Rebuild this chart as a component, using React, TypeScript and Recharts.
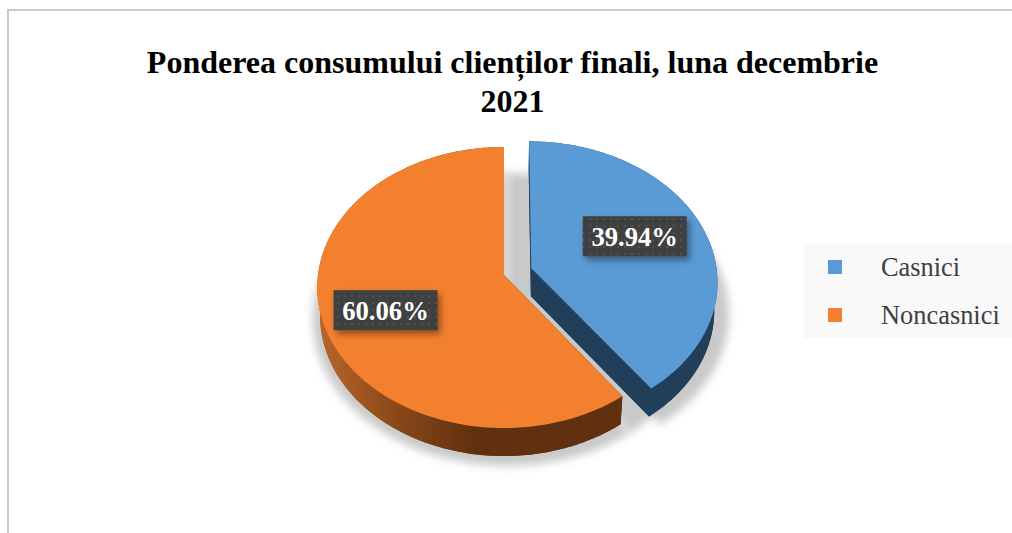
import { PieChart, Pie, Legend } from "recharts";

const categories = ["Casnici", "Noncasnici"];
const shares = [39.94, 60.06];
const topColors = ["#5b9bd5", "#f2802f"];
const sideColors = ["#223f59", "url(#orangeSide)"];
const titleLines = ["Ponderea consumului clienților finali, luna decembrie", "2021"];

const data = categories.map((name, i) => ({ name, value: shares[i], fill: topColors[i] }));

const EXPLODED = "Casnici";
const EXPLODE = 0.155; // share of the radius
const SQUASH = 0.7495; // tilt of the disc
const PERSPECTIVE = 0.089;
const DEPTH = 28;
const DEPTH_SCALE = 0.985;
const LABEL_RADIUS = 0.67;
const LABEL_EXTRA = 0.105; // exploded slice
const LABEL_TURN = 3.5;
const SERIF = "'Liberation Serif', 'Times New Roman', serif";

const rad = (deg: number) => (deg * Math.PI) / 180;

// disc coordinates (unit circle, v pointing down) to screen
function project(cx: number, cy: number, r: number, u: number, v: number) {
  const w = 1 - PERSPECTIVE * v;
  return [cx + (r * u) / w, cy + (r * SQUASH * v) / w];
}

function outline(p: any) {
  const { cx, cy, outerRadius: r, startAngle, endAngle } = p;
  const name = p.name ?? p.payload?.name;
  const mid = (startAngle + endAngle) / 2;
  const off = p.noExplode || name !== EXPLODED ? 0 : EXPLODE;
  const u0 = off * Math.cos(rad(mid));
  const v0 = -off * Math.sin(rad(mid));
  const apex = project(cx, cy, r, u0, v0);
  const arc: number[][] = [];
  const steps = Math.ceil(Math.abs(endAngle - startAngle));
  for (let i = 0; i <= steps; i++) {
    const a = rad(startAngle + ((endAngle - startAngle) * i) / steps);
    arc.push(project(cx, cy, r, u0 + Math.cos(a), v0 - Math.sin(a)));
  }
  return { apex, arc };
}

const toPath = (pts: number[][]) =>
  "M" + pts.map((q) => `${q[0].toFixed(2)},${q[1].toFixed(2)}`).join("L") + "Z";

function SliceShape(p: any) {
  const { cx } = p;
  const { apex, arc } = outline(p);
  const name = p.name ?? p.payload?.name;
  const down = (q: number[]) => [cx + (q[0] - cx) * DEPTH_SCALE, q[1] + DEPTH];
  const low = arc.map(down);
  const side = sideColors[categories.indexOf(name)];
  const band = [...arc, ...[...low].reverse()];
  const wallA = [apex, arc[0], low[0], down(apex)];
  const wallB = [apex, arc[arc.length - 1], low[low.length - 1], down(apex)];
  return (
    <g>
      <defs>
        <linearGradient id="orangeSide" gradientUnits="userSpaceOnUse" x1="317" y1="0" x2="475" y2="0">
          <stop offset="0" stopColor="#b9672a" />
          <stop offset="0.5" stopColor="#8a481a" />
          <stop offset="1" stopColor="#60300f" />
        </linearGradient>
      </defs>
      <path d={toPath([down(apex), ...low])} fill={side} />
      <path d={toPath(band)} fill={side} />
      <path d={toPath(wallA)} fill={side} />
      <path d={toPath(wallB)} fill={side} />
      <path d={toPath([apex, ...arc])} fill={p.fill} />
    </g>
  );
}

function ShadowShape(p: any) {
  const { cx, cy } = p;
  const a = outline(p);
  const b = outline({ ...p, noExplode: true });
  const cast = (q: number[]) => [cx + 3 + (q[0] - cx) * 1.04, cy + 44 + (q[1] - cy - 12) * 1.04];
  return (
    <g style={{ filter: "blur(4px)" }}>
      <path d={toPath([a.apex, ...a.arc].map(cast))} fill="#c9c9c9" />
      <path d={toPath([b.apex, ...b.arc].map(cast))} fill="#c9c9c9" />
    </g>
  );
}

function PercentLabel(p: any) {
  const { cx, cy, outerRadius: r, midAngle, value, name } = p;
  const off = (name ?? p.payload?.name) === EXPLODED ? LABEL_EXTRA : 0;
  const f = LABEL_RADIUS + off;
  const a = rad(midAngle + LABEL_TURN);
  const [x, y] = project(cx, cy, r, f * Math.cos(a), -f * Math.sin(a));
  const w = 104;
  const h = 40;
  return (
    <g>
      <defs>
        <pattern id="labelDots" width="7" height="7" patternUnits="userSpaceOnUse">
          <rect width="7" height="7" fill="#404040" />
          <circle cx="2" cy="2" r="1" fill="#585858" />
        </pattern>
      </defs>
      <rect x={x - w / 2 + 3} y={y - h / 2 + 4} width={w} height={h} fill="#000" opacity={0.4} style={{ filter: "blur(3px)" }} />
      <rect x={x - w / 2} y={y - h / 2} width={w} height={h} fill="url(#labelDots)" />
      <text x={x} y={y + 10} textAnchor="middle" fill="#fff" fontFamily={SERIF} fontWeight="bold" fontSize={26.67}>
        {value.toFixed(2)}%
      </text>
    </g>
  );
}

function LegendBox({ payload }: any) {
  // both pies report their entries, keep one of each
  const items = (payload ?? []).filter(
    (item: any, i: number, all: any[]) => all.findIndex((o) => o.value === item.value) === i
  );
  return (
    <div style={{ width: 208, height: 94, background: "#f9f9f9", position: "relative", fontFamily: SERIF, fontSize: 26.4, color: "#404040" }}>
      {items.map((item: any, i: number) => (
        <div key={item.value}>
          <div style={{ position: "absolute", left: 24, top: 16 + i * 48, width: 14, height: 14, background: item.color }} />
          <div style={{ position: "absolute", left: 77, top: 7 + i * 48, lineHeight: "32px", whiteSpace: "nowrap" }}>{item.value}</div>
        </div>
      ))}
    </div>
  );
}

export default function App() {
  return (
    <div style={{ position: "fixed", left: 0, top: 0, width: 1012, height: 533, overflow: "hidden", background: "#fff" }}>
      <div style={{ position: "absolute", left: 7, top: 9, width: 1005, height: 524, borderLeft: "2px solid #cbcbcb", borderTop: "2px solid #cbcbcb", boxSizing: "border-box" }} />
      <div style={{ position: "absolute", left: 0, top: 43, width: 1025, textAlign: "center", fontFamily: SERIF, fontWeight: "bold", fontSize: 32, lineHeight: "39px", color: "#000" }}>
        {titleLines.map((line) => (
          <div key={line}>{line}</div>
        ))}
      </div>
      <div style={{ position: "absolute", left: 0, top: 0 }}>
        <PieChart width={1012} height={533} margin={{ top: 0, right: 0, bottom: 0, left: 0 }}>
          <Pie
            data={data}
            dataKey="value"
            nameKey="name"
            cx={504}
            cy={275}
            outerRadius={186}
            startAngle={90}
            endAngle={-270}
            legendType="none"
            shape={ShadowShape}
            isAnimationActive={false}
          />
          <Pie
            data={data}
            dataKey="value"
            nameKey="name"
            cx={504}
            cy={275}
            outerRadius={186}
            startAngle={90}
            endAngle={-270}
            shape={SliceShape}
            label={PercentLabel}
            labelLine={false}
            isAnimationActive={false}
          />
          <Legend
            layout="vertical"
            align="right"
            verticalAlign="top"
            content={LegendBox}
            wrapperStyle={{ left: 804, right: "auto", top: 244, width: 208, height: 94 }}
          />
        </PieChart>
      </div>
    </div>
  );
}
